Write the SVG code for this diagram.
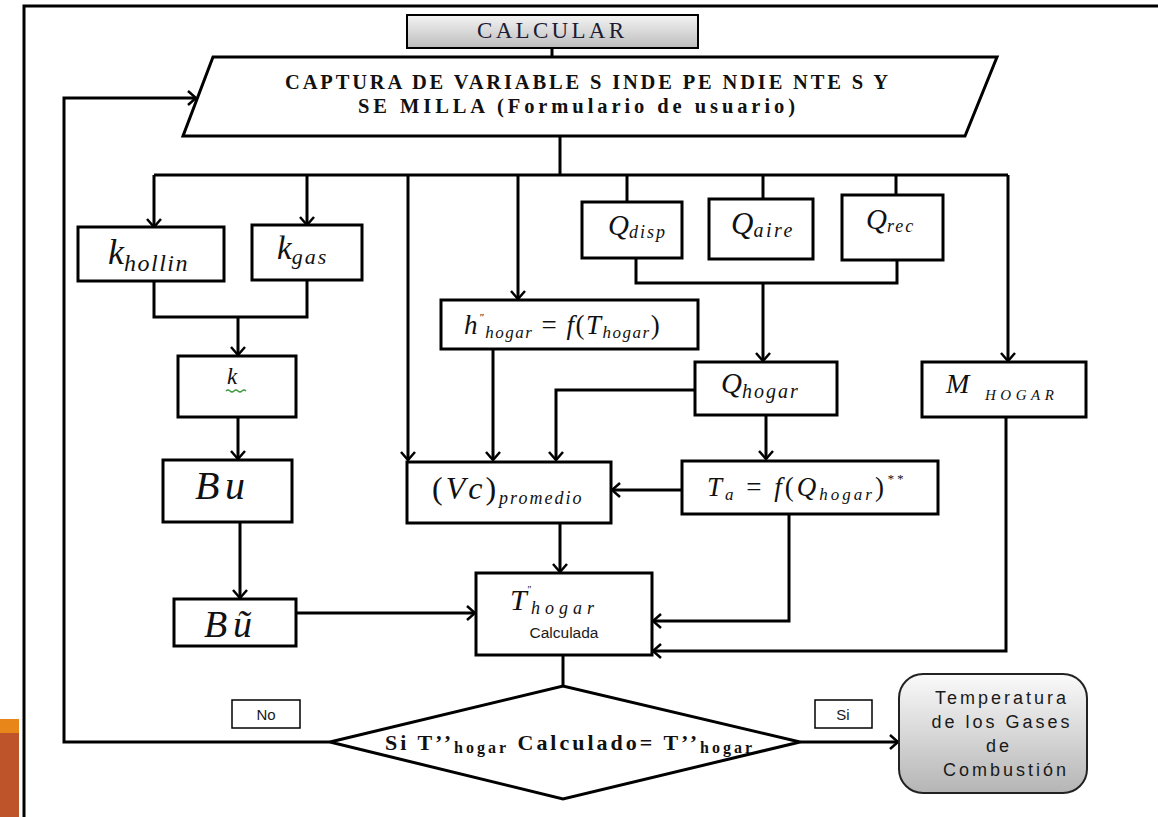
<svg xmlns="http://www.w3.org/2000/svg" width="1158" height="817" viewBox="0 0 1158 817">
<style>
.box{fill:#fff;stroke:#000;stroke-width:3}
.ln{fill:none;stroke:#000;stroke-width:3}
.ar{fill:none;stroke:#000;stroke-width:3;marker-end:url(#ah)}
.m{font-family:"Liberation Serif",serif;font-style:italic;fill:#111}
.s{font-family:"Liberation Sans",Arial,sans-serif;fill:#1a1a1a}
.b{font-family:"Liberation Serif",serif;font-weight:bold;fill:#111}
</style>
<defs>
<marker id="ah" viewBox="0 0 10 16" refX="9" refY="8" markerWidth="10" markerHeight="16" markerUnits="userSpaceOnUse" orient="auto">
<path d="M1,1 L9,8 L1,15" fill="none" stroke="#000" stroke-width="2.5"/>
</marker>
<linearGradient id="g1" x1="0" y1="0" x2="0" y2="1"><stop offset="0" stop-color="#f4f4f4"/><stop offset="1" stop-color="#bdbdbd"/></linearGradient>
<linearGradient id="g2" x1="0" y1="0" x2="0" y2="1"><stop offset="0" stop-color="#fafafa"/><stop offset="1" stop-color="#b5b5b5"/></linearGradient>
</defs>
<rect width="1158" height="817" fill="#fff"/>
<!-- frame and side strip -->
<path d="M24,817 V6 H1158" class="ln"/>
<rect x="0" y="719" width="19" height="14" fill="#E8861A"/>
<rect x="0" y="733" width="19" height="84" fill="#BE552A"/>

<g id="connectors">
<path d="M552,48 V57" class="ln"/>
<path d="M560,136 V175" class="ln"/>
<path d="M154,175 H1008" class="ln"/>
<path d="M154,175 V227" class="ar"/>
<path d="M307,175 V225" class="ar"/>
<path d="M408,175 V460" class="ar"/>
<path d="M518,175 V299" class="ar"/>
<path d="M627,175 V202" class="ln"/>
<path d="M763,175 V199" class="ln"/>
<path d="M896,175 V195" class="ln"/>
<path d="M1008,175 V361" class="ar"/>
<path d="M154,281 V317 H307 V280" class="ln"/>
<path d="M238,317 V355" class="ar"/>
<path d="M238,417 V459" class="ar"/>
<path d="M240,522 V598" class="ar"/>
<path d="M636,258 V283 H897 V260" class="ln"/>
<path d="M763,283 V361" class="ar"/>
<path d="M493,349 V460" class="ar"/>
<path d="M695,390 H556 V460" class="ar"/>
<path d="M766,415 V459" class="ar"/>
<path d="M682,490 H612" class="ar"/>
<path d="M560,523 V572" class="ar"/>
<path d="M297,613 H475" class="ar"/>
<path d="M789,514 V621 H653" class="ar"/>
<path d="M1006,417 V651 H653" class="ar"/>
<path d="M563,655 V686" class="ln"/>
<path d="M330,742 H64 V98 H196" class="ar"/>
<path d="M800,742 H898" class="ar"/>
</g>

<g id="calcular">
<rect x="407" y="15" width="291" height="33" fill="url(#g1)" stroke="#000" stroke-width="2"/>
<text x="477" y="38" font-family="Liberation Serif,serif" font-size="23" textLength="147" lengthAdjust="spacing" fill="#1c1c34">CALCULAR</text>
</g>

<g id="captura">
<path d="M213,57 H997 L965,136 H183 Z" class="box"/>
<text x="285" y="89" class="b" font-size="20.5" textLength="603" lengthAdjust="spacing">CAPTURA DE VARIABLE S INDE PE NDIE NTE S Y</text>
<text x="358" y="113" class="b" font-size="20.5" textLength="437" lengthAdjust="spacing">SE MILLA (Formulario de usuario)</text>
</g>

<g id="khollin">
<rect x="78" y="227" width="146" height="54" class="box"/>
<text x="108" y="264" class="m" font-size="36">k<tspan font-size="24" dy="7" letter-spacing="1.5">hollin</tspan></text>
</g>
<g id="kgas">
<rect x="252" y="225" width="110" height="55" class="box"/>
<text x="277" y="259" class="m" font-size="33">k<tspan font-size="22" dy="5" letter-spacing="2">gas</tspan></text>
</g>
<g id="k">
<rect x="178" y="356" width="118" height="61" class="box"/>
<text x="227" y="384" class="m" font-size="23" fill="#1f3a7a">k</text>
<path d="M226,391 q2,-2 4,0 t4,0 t4,0 t4,0 t4,0" fill="none" stroke="#3a9a3a" stroke-width="1.2"/>
</g>
<g id="bu">
<rect x="163" y="460" width="129" height="62" class="box"/>
<text y="499" class="m" font-size="40"><tspan x="195">B</tspan><tspan x="225">u</tspan></text>
</g>
<g id="btilde">
<rect x="174" y="599" width="122" height="47" class="box"/>
<text y="637" class="m" font-size="38"><tspan x="204">B</tspan><tspan x="233">ũ</tspan></text>
</g>

<g id="qdisp">
<rect x="582" y="202" width="100" height="56" class="box"/>
<text x="608" y="235" class="m" font-size="29">Q<tspan font-size="18" dy="3" letter-spacing="2">disp</tspan></text>
</g>
<g id="qaire">
<rect x="709" y="199" width="104" height="60" class="box"/>
<text x="731" y="234" class="m" font-size="31">Q<tspan font-size="20" dy="3" letter-spacing="2.5">aire</tspan></text>
</g>
<g id="qrec">
<rect x="842" y="195" width="101" height="65" class="box"/>
<text x="866" y="229" class="m" font-size="29">Q<tspan font-size="18" dy="3" letter-spacing="2">rec</tspan></text>
</g>

<g id="hhogar">
<rect x="441" y="300" width="257" height="49" class="box"/>
<text x="464" y="334" class="m" font-size="27" letter-spacing="1.5">h<tspan font-size="11" dy="-13">"</tspan><tspan font-size="17" dy="17">hogar</tspan><tspan font-size="27" dy="-4" font-style="normal"> = </tspan>f<tspan font-style="normal">(</tspan>T<tspan font-size="17" dy="4">hogar</tspan><tspan font-size="27" dy="-4" font-style="normal">)</tspan></text>
</g>

<g id="qhogar">
<rect x="695" y="362" width="142" height="53" class="box"/>
<text x="721" y="393" class="m" font-size="29">Q<tspan font-size="20" dy="5" letter-spacing="2">hogar</tspan></text>
</g>

<g id="mhogar">
<rect x="922" y="362" width="164" height="55" class="box"/>
<text x="946" y="393" class="m" font-size="28">M<tspan x="985" font-size="15" dy="7" letter-spacing="4.5">HOGAR</tspan></text>
</g>

<g id="vc">
<rect x="407" y="462" width="204" height="61" class="box"/>
<text x="432" y="499" class="m" font-size="32" letter-spacing="3"><tspan font-style="normal">(</tspan>Vc<tspan font-style="normal">)</tspan><tspan font-size="18" dy="5" letter-spacing="2">promedio</tspan></text>
</g>

<g id="ta">
<rect x="682" y="461" width="256" height="53" class="box"/>
<text x="707" y="496" class="m" font-size="27" letter-spacing="3">T<tspan font-size="17" dy="4">a</tspan><tspan dy="-4" font-style="normal"> = </tspan>f<tspan font-style="normal">(</tspan>Q<tspan font-size="17" dy="4">hogar</tspan><tspan dy="-4" font-style="normal">)</tspan><tspan font-size="13" dy="-13">**</tspan></text>
</g>

<g id="thogar">
<rect x="476" y="573" width="176" height="82" class="box"/>
<text x="510" y="610" class="m" font-size="30">T<tspan font-size="10" dy="-17">"</tspan><tspan font-size="18" dy="21" letter-spacing="5">hogar</tspan></text>
<text x="564" y="638" class="s" font-size="15.5" fill="#1f3864" text-anchor="middle">Calculada</text>
</g>

<g id="decision">
<path d="M330,742 L563,686 L800,742 L563,799 Z" class="box"/>
<text x="385" y="750" class="b" font-size="22" textLength="367" lengthAdjust="spacing">Si T’’<tspan font-size="16" dy="3">hogar</tspan><tspan dy="-3"> Calculado= T’’</tspan><tspan font-size="16" dy="3">hogar</tspan></text>
</g>

<g id="no">
<rect x="232" y="700" width="68" height="28" fill="#fff" stroke="#000" stroke-width="1.5"/>
<text x="266" y="720" class="s" font-size="15" fill="#1e1a4a" text-anchor="middle">No</text>
</g>
<g id="si">
<rect x="815" y="700" width="57" height="28" fill="#fff" stroke="#000" stroke-width="1.5"/>
<text x="843" y="720" class="s" font-size="15" fill="#1e1a4a" text-anchor="middle">Si</text>
</g>

<g id="resultado">
<rect x="899" y="674" width="188" height="119" rx="24" fill="url(#g2)" stroke="#222" stroke-width="2"/>
<text class="s" font-size="18" text-anchor="middle" letter-spacing="3">
<tspan x="1006" y="704">Temperatura</tspan>
<tspan x="1006" y="728">de los Gases</tspan>
<tspan x="1003" y="752">de</tspan>
<tspan x="1006" y="776">Combustión</tspan>
</text>
</g>
</svg>
